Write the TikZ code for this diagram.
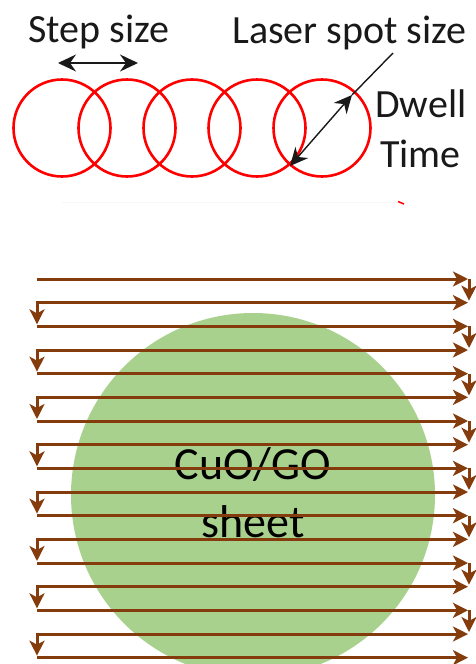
\documentclass[tikz,border=0pt]{standalone}
\usepackage{fontspec}
\setmainfont{Carlito}
\usetikzlibrary{arrows.meta}
\definecolor{scanbrown}{RGB}{132,60,12}
\definecolor{sheetgreen}{RGB}{169,209,142}
\definecolor{txtgray}{RGB}{25,25,25}
\begin{document}
\begin{tikzpicture}[x=1pt,y=-1pt,
  spot/.style={draw=red, line width=2.6pt, circle, minimum size=97pt, inner sep=0pt},
  lbl/.style={inner sep=0pt, anchor=base west, font=\fontsize{40}{40}\selectfont, text=txtgray},
  sheetlbl/.style={inner sep=0pt, anchor=base, font=\fontsize{46}{46}\selectfont, text=black},
  dimarrow/.style={line width=1.4pt, draw=txtgray, {Stealth[length=18pt,width=17pt,inset=6pt]}-{Stealth[length=18pt,width=17pt,inset=6pt]}},
  leader/.style={line width=1.4pt, draw=txtgray},
  scan/.style={draw=scanbrown, line width=3pt, -{Stealth[length=15pt,width=15pt,inset=4pt]}},
]
\useasboundingbox (0,0) rectangle (476,664);
\fill[white] (0,0) rectangle (476,664);

% laser spots
\foreach \i in {0,...,4} {
  \node[spot] (spot\i) at (62+65*\i,128) {};
}

% labels
\node[lbl] (step) at (28,42) {Step size};
\node[lbl] (laser) at (232,43) {Laser spot size};
\node[lbl] (dwell) at (375,117) {Dwell};
\node[lbl] (time) at (380,167) {Time};

% dimension arrows
\coordinate (sa) at (58,63);
\coordinate (sb) at (138,63);
\draw[dimarrow] (sa) -- (sb);
\coordinate (da) at (290,166);
\coordinate (db) at (352,95);
\coordinate (dc) at (393,53);
\draw[dimarrow] (da) -- (db);
\draw[leader] (db) -- (dc);

% faint artefacts
\coordinate (fa) at (62,202);
\coordinate (fb) at (397,202);
\draw[black!3, line width=0.6pt] (fa) -- (fb);
\coordinate (ra) at (398,201.5);
\coordinate (rb) at (404,204);
\draw[red, line width=1.5pt] (ra) -- (rb);

% sheet
\node[circle, fill=sheetgreen, minimum size=364pt, inner sep=0pt] (sheet) at (253,495) {};
\node[sheetlbl] (cuo) at (253,479.5) {CuO/GO};
\node[sheetlbl] (sheettxt) at (253,537) {sheet};

% raster scan
\foreach \i in {1,...,17} {
  \pgfmathsetmacro\yy{279+(\i-1)*23.667}
  \pgfmathsetmacro\yn{279+\i*23.667-2}
  \coordinate (L\i) at (37,\yy);
  \coordinate (R\i) at (468,\yy);
  \coordinate (V\i) at (469,\yy);
  \coordinate (E\i) at (469,\yn);
  \coordinate (W\i) at (37,\yn);
  \coordinate (C\i) at (37,\yy-1.5);
}
\foreach \i in {1,...,17} {
  \draw[scan] (L\i) -- (R\i);
}
\foreach \i in {1,...,16} {
  \ifodd\i\relax
    \draw[scan] (V\i) -- (E\i);
  \else
    \draw[scan] (C\i) -- (W\i);
  \fi
}
\end{tikzpicture}
\end{document}
